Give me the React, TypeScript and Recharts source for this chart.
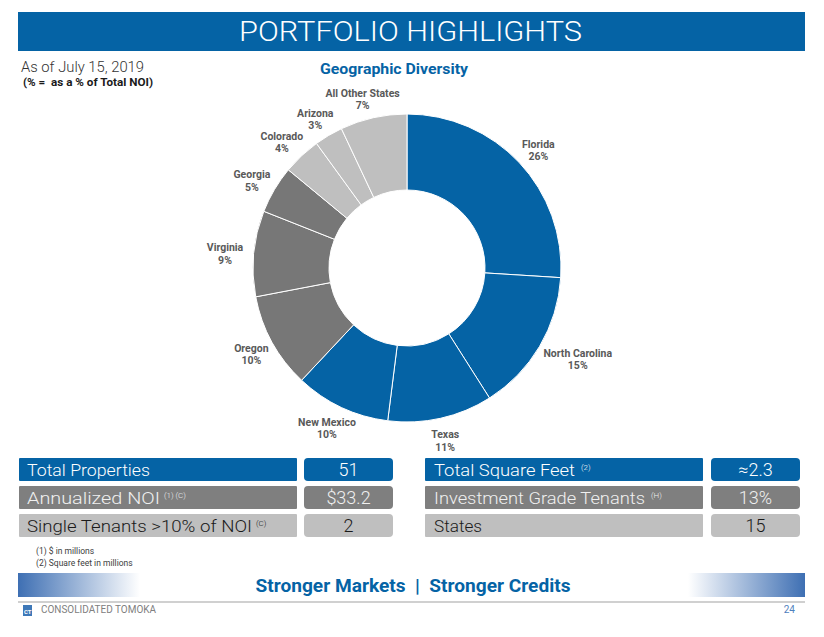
import { PieChart, Pie, Cell } from "recharts";

const states = [
  "Florida",
  "North Carolina",
  "Texas",
  "New Mexico",
  "Oregon",
  "Virginia",
  "Georgia",
  "Colorado",
  "Arizona",
  "All Other States",
];
const noiShare = [26, 15, 11, 10, 10, 9, 5, 4, 3, 7];
const sliceColors = [
  "#0563A5", "#0563A5", "#0563A5", "#0563A5",
  "#777777", "#777777", "#777777",
  "#BFBFBF", "#BFBFBF", "#BFBFBF",
];

const leftLabels = ["Total Properties", "Annualized NOI", "Single Tenants >10% of NOI"];
const leftNotes = ["", "(1) (C)", "(C)"];
const leftValues = ["51", "$33.2", "2"];
const rightLabels = ["Total Square Feet", "Investment Grade Tenants", "States"];
const rightNotes = ["(2)", "(H)", ""];
const rightValues = ["≈2.3", "13%", "15"];

const footnotes = ["(1) $ in millions", "(2) Square feet in millions"];

const pieData = states.map((name, i) => ({ name, value: noiShare[i] }));

// measured text widths, so the narrow stand-in font fills the same room
const leftWidths = [123, 133, 225];
const rightWidths = [141, 211, 48];

const BLUE = "#0563A5";
const rowFill = [BLUE, "#7F7F7F", "#BFBFBF"];
const rowText = ["#ffffff", "#F0F0F0", "#1a1a1a"];
const rowTop = [458, 486, 514];
const FONT = "Roboto, 'DejaVu Sans', sans-serif";

const RAD = Math.PI / 180;

// label box sits just outside the ring, pushed out by its own half size
function renderLabel(props: any) {
  const { cx, cy, midAngle, outerRadius, name, value } = props;
  const cos = Math.cos(-midAngle * RAD);
  const sin = Math.sin(-midAngle * RAD);
  const r = outerRadius + 8;
  const halfW = name.length * 2.6;
  const halfH = 13;
  const x = cx + r * cos + cos * halfW;
  const y = cy + r * sin + sin * halfH + 2;
  return (
    <text
      x={x}
      y={y}
      textAnchor="middle"
      fill="#595959"
      fontFamily={FONT}
      fontWeight={700}
      fontSize={10.5}
    >
      <tspan x={x} dy={-2.5}>{name}</tspan>
      <tspan x={x} dy={12.5}>{value}%</tspan>
    </text>
  );
}

function StatRow({ i }: { i: number }) {
  const top = rowTop[i];
  const h = 23;
  const base = top + 17.5;
  return (
    <g>
      <rect x={19} y={top} width={278} height={h} rx={1} fill={rowFill[i]} />
      <rect x={304} y={top} width={89} height={h} rx={4} fill={rowFill[i]} />
      <rect x={425} y={top} width={278} height={h} rx={1} fill={rowFill[i]} />
      <rect x={711} y={top} width={89} height={h} rx={4} fill={rowFill[i]} />
      <text x={27} y={base} fill={rowText[i]} fontFamily={FONT} fontSize={17} fontWeight={300} textLength={leftWidths[i]} lengthAdjust="spacingAndGlyphs">
        {leftLabels[i]}
      </text>
      {leftNotes[i] && (
        <text x={27 + leftWidths[i] + 4} y={base - 6} fill={rowText[i]} fontFamily={FONT} fontSize={8} fontWeight={300}>
          {leftNotes[i]}
        </text>
      )}
      <text x={348.5} y={base} textAnchor="middle" fill={rowText[i]} fontFamily={FONT} fontSize={18} fontWeight={300}>
        {leftValues[i]}
      </text>
      <text x={434} y={base} fill={rowText[i]} fontFamily={FONT} fontSize={17} fontWeight={300} textLength={rightWidths[i]} lengthAdjust="spacingAndGlyphs">
        {rightLabels[i]}
      </text>
      {rightNotes[i] && (
        <text x={434 + rightWidths[i] + 6} y={base - 6} fill={rowText[i]} fontFamily={FONT} fontSize={8} fontWeight={300}>
          {rightNotes[i]}
        </text>
      )}
      <text x={755.5} y={base} textAnchor="middle" fill={rowText[i]} fontFamily={FONT} fontSize={18} fontWeight={300}>
        {rightValues[i]}
      </text>
    </g>
  );
}

export default function App() {
  return (
    <div style={{ position: "relative", width: 824, height: 637, background: "#fff", overflow: "hidden" }}>
      <style>{"body{margin:0}"}</style>
      <svg width={824} height={637} style={{ position: "absolute", left: 0, top: 0 }}>
        <defs>
          <linearGradient id="bandLeft" x1="0" x2="1" y1="0" y2="0">
            <stop offset="0" stopColor="#3E6FB3" />
            <stop offset="1" stopColor="#ffffff" />
          </linearGradient>
          <linearGradient id="bandRight" x1="0" x2="1" y1="0" y2="0">
            <stop offset="0" stopColor="#ffffff" />
            <stop offset="1" stopColor="#3E6FB3" />
          </linearGradient>
        </defs>

        <rect x={18} y={12} width={787} height={39} fill={BLUE} />
        <text
          x={410.5}
          y={41}
          textAnchor="middle"
          fill="#ffffff"
          fontFamily={FONT}
          fontWeight={300}
          fontSize={28}
          textLength={343}
          lengthAdjust="spacingAndGlyphs"
        >
          PORTFOLIO HIGHLIGHTS
        </text>

        <text x={21} y={72} fill="#333333" fontFamily={FONT} fontWeight={300} fontSize={15} textLength={123} lengthAdjust="spacingAndGlyphs">
          As of July 15, 2019
        </text>
        <text x={23} y={86} fill="#1a1a1a" fontFamily={FONT} fontWeight={700} fontSize={10.5} textLength={130} lengthAdjust="spacingAndGlyphs" style={{ whiteSpace: "pre" }}>
          {"(% =  as a % of Total NOI)"}
        </text>
        <text x={394} y={74} textAnchor="middle" fill={BLUE} fontFamily={FONT} fontWeight={700} fontSize={15} textLength={148} lengthAdjust="spacingAndGlyphs">
          Geographic Diversity
        </text>

        {[0, 1, 2].map((i) => (
          <StatRow key={i} i={i} />
        ))}

        {footnotes.map((f, i) => (
          <text key={f} x={36} y={554 + i * 12} fill="#404040" fontFamily={FONT} fontSize={8.5}>
            {f}
          </text>
        ))}

        <rect x={18} y={573} width={122} height={24} fill="url(#bandLeft)" />
        <rect x={688} y={573} width={117} height={24} fill="url(#bandRight)" />
        <text x={413} y={592} textAnchor="middle" fill={BLUE} fontFamily={FONT} fontWeight={700} fontSize={19} textLength={315} lengthAdjust="spacingAndGlyphs" style={{ whiteSpace: "pre" }}>
          {"Stronger Markets  |  Stronger Credits"}
        </text>
        <rect x={18} y={601} width={787} height={2} fill="#D0D0D0" />

        <rect x={23} y={605} width={9} height={11} fill="#3E78B8" />
        <text x={24} y={614} fill="#ffffff" fontFamily={FONT} fontWeight={700} fontSize={6}>
          CT
        </text>
        <text x={41} y={613} fill="#808080" fontFamily={FONT} fontSize={10} textLength={115} lengthAdjust="spacingAndGlyphs">
          CONSOLIDATED TOMOKA
        </text>
        <text x={795} y={613} textAnchor="end" fill="#4F81BD" fontFamily={FONT} fontSize={10}>
          24
        </text>
      </svg>

      <div style={{ position: "absolute", left: 0, top: 0 }}>
        <PieChart width={824} height={456} margin={{ top: 0, right: 0, bottom: 0, left: 0 }}>
          <Pie
            data={pieData}
            dataKey="value"
            nameKey="name"
            cx={407}
            cy={268}
            innerRadius={78}
            outerRadius={154}
            startAngle={90}
            endAngle={-270}
            stroke="#ffffff"
            strokeWidth={1}
            label={renderLabel}
            labelLine={false}
            isAnimationActive={false}
          >
            {pieData.map((d, i) => (
              <Cell key={d.name} fill={sliceColors[i]} />
            ))}
          </Pie>
        </PieChart>
      </div>
    </div>
  );
}
